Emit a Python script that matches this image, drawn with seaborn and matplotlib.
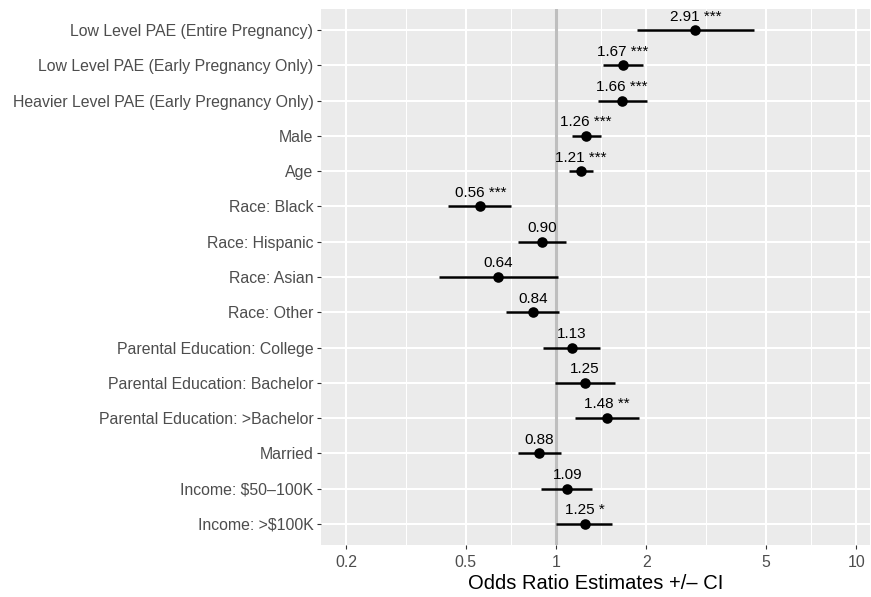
import numpy as np
import pandas as pd
import matplotlib
matplotlib.use("Agg")
import matplotlib.pyplot as plt
from matplotlib.ticker import NullFormatter
import seaborn as sns

# Model terms, top to bottom
terms = [
    "Low Level PAE (Entire Pregnancy)",
    "Low Level PAE (Early Pregnancy Only)",
    "Heavier Level PAE (Early Pregnancy Only)",
    "Male",
    "Age",
    "Race: Black",
    "Race: Hispanic",
    "Race: Asian",
    "Race: Other",
    "Parental Education: College",
    "Parental Education: Bachelor",
    "Parental Education: >Bachelor",
    "Married",
    "Income: $50\u2013100K",
    "Income: >$100K",
]

# Odds ratios and confidence limits
odds_ratio = [2.91, 1.67, 1.66, 1.26, 1.21, 0.56, 0.90, 0.64, 0.84, 1.13, 1.25, 1.48, 0.88, 1.09, 1.25]
ci_low = [1.86, 1.43, 1.38, 1.13, 1.105, 0.437, 0.747, 0.407, 0.681, 0.905, 0.99, 1.157, 0.747, 0.89, 1.0]
ci_high = [4.57, 1.95, 2.01, 1.41, 1.33, 0.708, 1.08, 1.015, 1.02, 1.40, 1.57, 1.89, 1.04, 1.32, 1.54]
stars = ["***", "***", "***", "***", "***", "***", "", "", "", "", "", "**", "", "", "*"]

x_breaks = [0.2, 0.5, 1, 2, 5, 10]
x_break_labels = ["0.2", "0.5", "1", "2", "5", "10"]

df = pd.DataFrame({"term": terms, "or": odds_ratio, "lo": ci_low, "hi": ci_high, "stars": stars})
df["pos"] = np.arange(len(df))
df["label"] = [f"{v:.2f} {s}".strip() for v, s in zip(df["or"], df["stars"])]

sns.set_theme(style="darkgrid", rc={
    "axes.facecolor": "#EBEBEB",
    "grid.color": "white",
    "axes.edgecolor": "#EBEBEB",
})
plt.rcParams["font.family"] = ["Liberation Sans", "DejaVu Sans"]

fig = plt.figure(figsize=(8.71, 5.97), dpi=100)
ax = fig.add_axes([0.3685, 0.0871, 0.6303, 0.8978])
for s in ax.spines.values():
    s.set_visible(False)

ax.set_xscale("log")
ax.set_xlim(0.165, 11.1)
ax.set_ylim(len(df) - 0.4, -0.6)

# grid: major at breaks, minor halfway (in log space) between them
ax.set_xticks(x_breaks)
ax.set_xticklabels(x_break_labels)
minor = [np.sqrt(a * b) for a, b in zip(x_breaks[:-1], x_breaks[1:])]
ax.set_xticks(minor, minor=True)
ax.xaxis.set_minor_formatter(NullFormatter())
ax.set_yticks(df["pos"])
ax.set_yticklabels(df["term"])
ax.grid(which="major", color="white", linewidth=1.45)
ax.grid(which="minor", axis="x", color="white", linewidth=0.72)
ax.set_axisbelow(True)

ax.axvline(1, color="#BEBEBE", linewidth=2.2, zorder=1.5)

ax.hlines(df["pos"], df["lo"], df["hi"], color="black", linewidth=1.8, zorder=2)
sns.scatterplot(data=df, x="or", y="pos", ax=ax, color="black", s=58,
                edgecolor="black", linewidth=0, zorder=3, legend=False)

for _, r in df.iterrows():
    ax.annotate(r["label"], (r["or"], r["pos"]), xytext=(0, 9.8), textcoords="offset points",
                ha="center", va="center", fontsize=11, color="black")

ax.tick_params(axis="both", which="major", length=2.9, width=0.8, color="#333333",
               labelsize=11.4, labelcolor="#4D4D4D", pad=2.5, left=True, bottom=True)
ax.tick_params(axis="x", which="major", pad=4)
ax.tick_params(axis="x", which="minor", length=0, bottom=False)
ax.set_ylabel("")
ax.set_xlabel("Odds Ratio Estimates +/\u2013 CI", fontsize=14.5, color="black", labelpad=3.5)

fig.savefig("out.png", dpi=100)
